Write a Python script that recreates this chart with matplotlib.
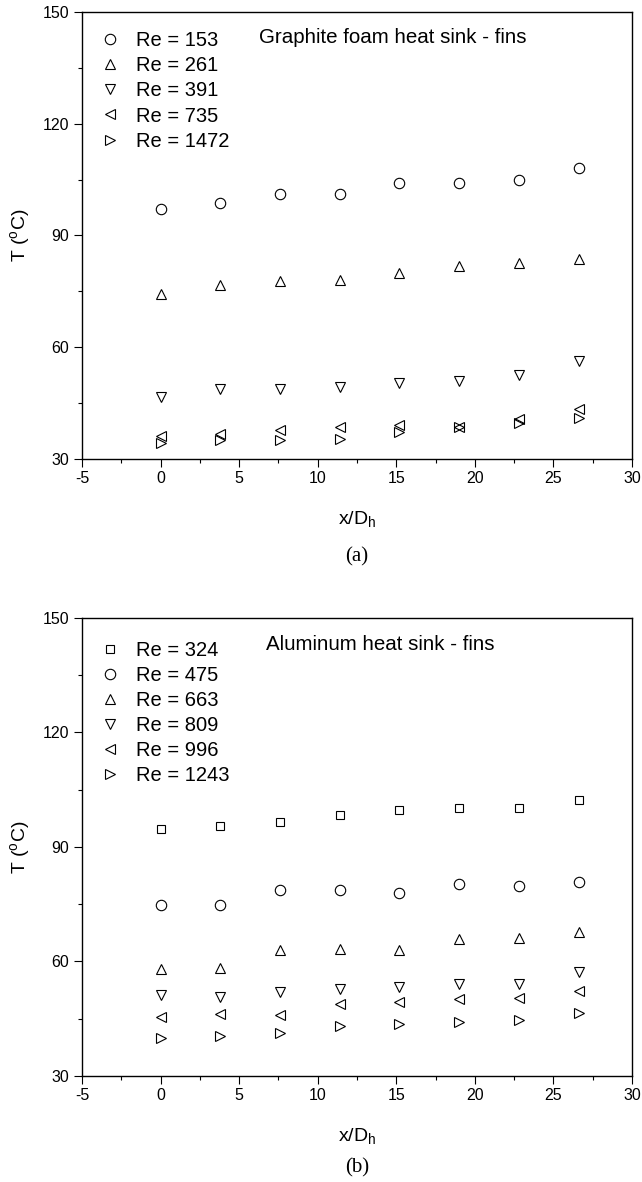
import matplotlib
matplotlib.use('Agg')
import matplotlib.pyplot as plt
from matplotlib.ticker import MultipleLocator

plt.rcParams['font.family'] = ['Liberation Sans', 'DejaVu Sans']
plt.rcParams['mathtext.fontset'] = 'custom'
plt.rcParams['mathtext.rm'] = 'Liberation Sans'
plt.rcParams['mathtext.it'] = 'Liberation Sans'
plt.rcParams['axes.unicode_minus'] = False

# x/Dh positions
x = [0, 3.8, 7.6, 11.4, 15.2, 19.0, 22.8, 26.6]

# (a) graphite foam
re_a = ['153', '261', '391', '735', '1472']
t_a153 = [97.1, 98.7, 101.0, 101.0, 104.0, 104.0, 105.0, 108.0]
t_a261 = [74.3, 76.7, 77.8, 78.1, 80.0, 81.8, 82.7, 83.6]
t_a391 = [46.6, 48.9, 48.9, 49.2, 50.3, 50.8, 52.6, 56.4]
t_a735 = [36.2, 36.8, 37.9, 38.6, 39.2, 38.5, 40.6, 43.3]
t_a1472 = [34.2, 35.0, 35.0, 35.4, 37.3, 38.5, 39.7, 41.1]
marks_a = ['o', '^', 'v', '<', '>']

# (b) aluminum
re_b = ['324', '475', '663', '809', '996', '1243']
t_b324 = [94.6, 95.5, 96.6, 98.4, 99.8, 100.2, 100.1, 102.2]
t_b475 = [74.7, 74.7, 78.8, 78.8, 78.0, 80.4, 79.9, 80.9]
t_b663 = [58.1, 58.4, 62.9, 63.3, 62.9, 65.9, 66.2, 67.6]
t_b809 = [51.2, 50.8, 52.1, 52.7, 53.2, 54.1, 54.1, 57.2]
t_b996 = [45.5, 46.2, 45.9, 48.8, 49.5, 50.2, 50.5, 52.2]
t_b1243 = [40.0, 40.5, 41.3, 43.0, 43.6, 44.1, 44.7, 46.4]
marks_b = ['s', 'o', '^', 'v', '<', '>']

fig = plt.figure(figsize=(6.42, 11.82), dpi=100)
ax1 = fig.add_axes([0.1277, 0.6117, 0.8567, 0.3782])
ax2 = fig.add_axes([0.1277, 0.0897, 0.8567, 0.3875])


def draw(ax, series, names, marks, note, note_x, tag, tag_y, leg_y):
    for t, n, m in zip(series, names, marks):
        ms = 6 if m == 's' else 7.5
        ax.plot(x, t, linestyle='none', marker=m, ms=ms, mfc='none',
                mec='black', mew=0.8, label='Re = ' + n)
    ax.set_xlim(-5, 30)
    ax.set_ylim(30, 150)
    ax.set_xticks(range(-5, 31, 5))
    ax.set_yticks(range(30, 151, 30))
    ax.xaxis.set_minor_locator(MultipleLocator(2.5))
    ax.yaxis.set_minor_locator(MultipleLocator(15))
    ax.tick_params(which='major', direction='out', length=5.5, width=0.8,
                   labelsize=11.5, top=False, right=False)
    ax.tick_params(which='minor', direction='out', length=3, width=0.8,
                   top=False, right=False)
    for s in ax.spines.values():
        s.set_linewidth(1.0)
    ax.set_xlabel(r'x/D$_{\rm h}$', fontsize=14, labelpad=16)
    ax.set_ylabel(r'T ($^{\rm o}$C)', fontsize=14, labelpad=8)
    ax.legend(loc='upper left', bbox_to_anchor=(0.0, leg_y), frameon=False,
              fontsize=14.5, handletextpad=0.8, labelspacing=0.3,
              handlelength=1.0, borderaxespad=0.5)
    ax.text(note_x, 0.943, note, transform=ax.transAxes, fontsize=14.8,
            va='center', ha='left')
    ax.text(0.5, tag_y, tag, transform=ax.transAxes, fontsize=15,
            family='Liberation Serif', ha='center', va='center')


draw(ax1, [t_a153, t_a261, t_a391, t_a735, t_a1472], re_a, marks_a,
     'Graphite foam heat sink - fins', 0.322, '(a)', -0.219, 0.997)
draw(ax2, [t_b324, t_b475, t_b663, t_b809, t_b996, t_b1243], re_b, marks_b,
     'Aluminum heat sink - fins', 0.335, '(b)', -0.2, 0.99)

fig.savefig('out.png', dpi=100)
